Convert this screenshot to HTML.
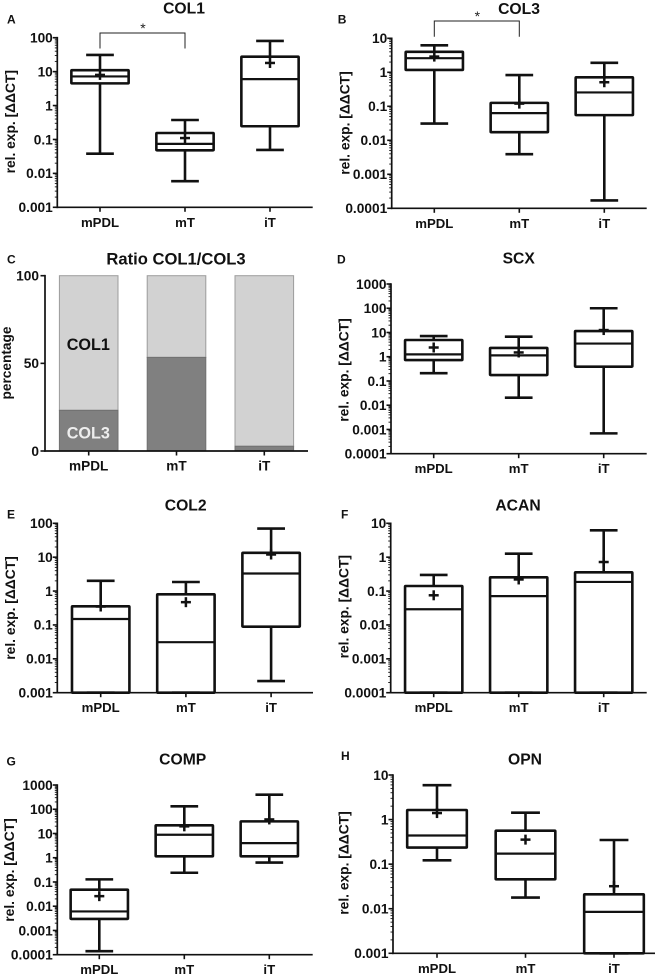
<!DOCTYPE html>
<html lang="en">
<head>
<meta charset="utf-8">
<title>Relative expression of tendon and cartilage markers</title>
<style>
html,body{margin:0;padding:0;background:#fff;width:661px;height:975px;overflow:hidden}
svg{display:block;font-family:"Liberation Sans",Arial,sans-serif}
text{fill:#111;font-weight:bold}
.tick{font-size:13.7px}
.cat{font-size:13.2px}
.ttl{font-size:15.7px}
.ylab{font-size:13.8px}
.let{font-size:12px}
</style>
</head>
<body>
<svg id="figure" width="661" height="975" viewBox="0 0 661 975" xmlns="http://www.w3.org/2000/svg"></svg>
<script>
const categories = ['mPDL', 'mT', 'iT'];

const col1Ticks = ['100', '10', '1', '0.1', '0.01', '0.001'];
const col1Max = [31, 0.375, 80];
const col1Q3 = [11, 0.155, 27.5];
const col1Median = [7.2, 0.074, 6];
const col1Q1 = [4.5, 0.048, 0.245];
const col1Min = [0.038, 0.0059, 0.049];
const col1Mean = [8, 0.11, 18];

const col3Ticks = ['10', '1', '0.1', '0.01', '0.001', '0.0001'];
const col3Max = [6.2, 0.83, 1.9];
const col3Q3 = [4, 0.126, 0.71];
const col3Median = [2.6, 0.063, 0.256];
const col3Q1 = [1.17, 0.0173, 0.055];
const col3Min = [0.031, 0.0039, 0.00017];
const col3Mean = [2.9, 0.12, 0.51];

const ratioTicks = ['100', '50', '0'];
const ratioCol3 = [23.2, 53.4, 2.7];
const ratioCol1 = [76.8, 46.6, 97.3];

const scxTicks = ['1000', '100', '10', '1', '0.1', '0.01', '0.001', '0.0001'];
const scxMax = [7.1, 6.7, 100];
const scxQ3 = [4.9, 2.3, 11.5];
const scxMedian = [1.25, 1.14, 3.5];
const scxQ1 = [0.73, 0.176, 0.39];
const scxMin = [0.21, 0.0204, 0.00069];
const scxMean = [2.4, 1.5, 12.6];

const col2Ticks = ['100', '10', '1', '0.1', '0.01', '0.001'];
const col2Max = [2, 1.85, 70];
const col2Q3 = [0.355, 0.8, 13.5];
const col2Median = [0.15, 0.031, 3.3];
const col2Q1 = [0.001, 0.001, 0.089];
const col2Min = [0.001, 0.001, 0.0022];
const col2Mean = [0.35, 0.47, 12];

const acanTicks = ['10', '1', '0.1', '0.01', '0.001', '0.0001'];
const acanMax = [0.3, 1.27, 6.2];
const acanQ3 = [0.141, 0.254, 0.357];
const acanMedian = [0.029, 0.071, 0.186];
const acanQ1 = [0.0001, 0.0001, 0.0001];
const acanMin = [0.0001, 0.0001, 0.0001];
const acanMean = [0.075, 0.22, 0.72];

const compTicks = ['1000', '100', '10', '1', '0.1', '0.01', '0.001', '0.0001'];
const compMax = [0.128, 132, 398];
const compQ3 = [0.048, 21.7, 31.6];
const compMedian = [0.0061, 8.9, 4];
const compQ1 = [0.003, 1.14, 1.14];
const compMin = [0.00014, 0.24, 0.63];
const compMean = [0.026, 19.7, 38];

const opnTicks = ['10', '1', '0.1', '0.01', '0.001'];
const opnMax = [5.9, 1.43, 0.348];
const opnQ3 = [1.64, 0.564, 0.021];
const opnMedian = [0.44, 0.172, 0.0085];
const opnQ1 = [0.235, 0.0457, 0.001];
const opnMin = [0.122, 0.0178, 0.001];
const opnMean = [1.4, 0.355, 0.032];

const boxPanels = [
  {id:'col1', title:'COL1', letter:'A', ticks:col1Ticks, max:col1Max, q3:col1Q3, med:col1Median, q1:col1Q1, min:col1Min, mean:col1Mean,
   left:57.3, right:312.7, top:37.7, bottom:207.3, firstX:100, stepX:85, titleX:184, titleY:13.5, letterX:7, letterY:23.3, yLabX:15, yLabY:121.7,
   bracket:{top:33, drop:15.5, starX:143, starY:33}},
  {id:'col3', title:'COL3', letter:'B', ticks:col3Ticks, max:col3Max, q3:col3Q3, med:col3Median, q1:col3Q1, min:col3Min, mean:col3Mean,
   left:391.7, right:646.7, top:38.3, bottom:208.3, firstX:434.3, stepX:85, titleX:519, titleY:14, letterX:337.7, letterY:23.3, yLabX:349.3, yLabY:123,
   bracket:{top:21, drop:15.7, starX:477.3, starY:21}},
  {id:'scx', title:'SCX', letter:'D', ticks:scxTicks, max:scxMax, q3:scxQ3, med:scxMedian, q1:scxQ1, min:scxMin, mean:scxMean,
   left:391, right:646.7, top:284, bottom:453.7, firstX:433.7, stepX:85, titleX:518.7, titleY:263.3, letterX:337, letterY:263.3, yLabX:348.3, yLabY:370},
  {id:'col2', title:'COL2', letter:'E', ticks:col2Ticks, max:col2Max, q3:col2Q3, med:col2Median, q1:col2Q1, min:col2Min, mean:col2Mean,
   left:57.3, right:313, top:523.3, bottom:692.7, firstX:100.7, stepX:85.2, titleX:185.7, titleY:510.7, letterX:7, letterY:518.3, yLabX:15, yLabY:608},
  {id:'acan', title:'ACAN', letter:'F', ticks:acanTicks, max:acanMax, q3:acanQ3, med:acanMedian, q1:acanQ1, min:acanMin, mean:acanMean,
   left:390.7, right:646.7, top:523.3, bottom:692.7, firstX:433.7, stepX:85, titleX:518, titleY:510.7, letterX:341, letterY:518.3, yLabX:348.3, yLabY:606.7},
  {id:'comp', title:'COMP', letter:'G', ticks:compTicks, max:compMax, q3:compQ3, med:compMedian, q1:compQ1, min:compMin, mean:compMean,
   left:57.3, right:312.7, top:785, bottom:954.7, firstX:99.3, stepX:85, titleX:182.7, titleY:764.3, letterX:6.5, letterY:765.7, yLabX:14, yLabY:870},
  {id:'opn', title:'OPN', letter:'H', ticks:opnTicks, max:opnMax, q3:opnQ3, med:opnMedian, q1:opnQ1, min:opnMin, mean:opnMean,
   left:393, right:655, top:775, bottom:953.3, firstX:437, stepX:88.5, titleX:525, titleY:764.3, letterX:341, letterY:760, yLabX:348.3, yLabY:863}
];

const svgNS = 'http://www.w3.org/2000/svg';
const root = document.getElementById('figure');

function make(tag, parent, attrs, txt) {
  const el = document.createElementNS(svgNS, tag);
  for (const k in attrs) el.setAttribute(k, attrs[k]);
  if (txt !== undefined) el.textContent = txt;
  parent.appendChild(el);
  return el;
}
function seg(parent, x1, y1, x2, y2, w, color) {
  return make('line', parent, {x1:x1, y1:y1, x2:x2, y2:y2, stroke:color || '#111', 'stroke-width':w});
}
function logScale(domTop, domBottom, top, bottom) {
  const a = Math.log10(domTop);
  const b = Math.log10(domBottom);
  return function (v) { return top + (a - Math.log10(v)) / (a - b) * (bottom - top); };
}

function drawBoxPanel(p) {
  const g = make('g', root, {});
  
  

  const title = make('text', g, {x:p.titleX, y:p.titleY, 'text-anchor':'middle', class:'ttl'}, p.title);
  
  

  const letter = make('text', g, {x:p.letterX, y:p.letterY, class:'let'}, p.letter);
  
  

  const yLab = make('text', g, {x:p.yLabX, y:p.yLabY, 'text-anchor':'middle', class:'ylab', transform:'rotate(-90 ' + p.yLabX + ' ' + p.yLabY + ')'}, 'rel. exp. [\u0394\u0394CT]');
  
  

  const values = p.ticks.map(Number);
  const y = logScale(values[0], values[values.length - 1], p.top, p.bottom);
  const x = function (i) { return p.firstX + i * p.stepX; };
  const boxHalf = p.stepX * 0.337;
  const capHalf = p.stepX * 0.163;

  const yAxis = seg(g, p.left, p.top - 0.8, p.left, p.bottom + 0.8, 1.7);
  
  
  const xAxis = seg(g, p.left - 0.8, p.bottom, p.right, p.bottom, 1.7);
  
  

  values.forEach(function (v, i) {
    const tick = seg(g, p.left - 4.5, y(v), p.left, y(v), 1.6);
    
    
    const lab = make('text', g, {x:p.left - 4.5, y:y(v) + 4.8, 'text-anchor':'end', class:'tick'}, p.ticks[i]);
    
    
    if (i < values.length - 1) {
      for (let m = 2; m < 10; m++) {
        const minor = seg(g, p.left - 2.5, y(values[i + 1] * m), p.left, y(values[i + 1] * m), 0.9);
        
        
      }
    }
  });

  categories.forEach(function (c, i) {
    const cx = x(i);
    const tick = seg(g, cx, p.bottom, cx, p.bottom + 4.5, 1.6);
    
    
    const lab = make('text', g, {x:cx, y:p.bottom + 19.5, 'text-anchor':'middle', class:'cat'}, c);
    
    

    const box = make('g', g, {});
    
    
    const w = 2.6;
    seg(box, cx, y(p.max[i]), cx, y(p.q3[i]), w);
    seg(box, cx, y(p.q1[i]), cx, y(p.min[i]), w);
    seg(box, cx - capHalf, y(p.max[i]), cx + capHalf, y(p.max[i]), w);
    seg(box, cx - capHalf, y(p.min[i]), cx + capHalf, y(p.min[i]), w);
    make('rect', box, {x:cx - boxHalf, y:y(p.q3[i]), width:boxHalf * 2, height:y(p.q1[i]) - y(p.q3[i]), fill:'none', stroke:'#111', 'stroke-width':w, rx:0.6});
    seg(box, cx - boxHalf, y(p.med[i]), cx + boxHalf, y(p.med[i]), 2.2);
    const my = y(p.mean[i]);
    seg(box, cx - 5, my, cx + 5, my, 2.5);
    seg(box, cx, my - 5, cx, my + 5, 2.5);
  });

  if (p.bracket) {
    const b = p.bracket;
    const br = make('polyline', g, {points:x(0) + ',' + (b.top + b.drop) + ' ' + x(0) + ',' + b.top + ' ' + x(1) + ',' + b.top + ' ' + x(1) + ',' + (b.top + b.drop), fill:'none', stroke:'#222', 'stroke-width':1});
    
    
    const star = make('text', g, {x:b.starX, y:b.starY, 'text-anchor':'middle', style:'font-size:14px;font-weight:normal;fill:#222'}, '*');
    
    
  }
}

function drawRatioPanel() {
  const p = {left:45, right:308, top:275.7, bottom:451, firstX:88.7, stepX:87.8, half:29.3};
  const g = make('g', root, {});
  
  

  const title = make('text', g, {x:176, y:264.3, 'text-anchor':'middle', style:'font-size:16.6px'}, 'Ratio COL1/COL3');
  
  
  const letter = make('text', g, {x:7, y:263.3, class:'let'}, 'C');
  
  
  const yLab = make('text', g, {x:11, y:363, 'text-anchor':'middle', transform:'rotate(-90 11 363)', style:'font-size:13.7px'}, 'percentage');
  
  

  const y = function (v) { return p.bottom - v / 100 * (p.bottom - p.top); };
  const x = function (i) { return p.firstX + i * p.stepX; };

  categories.forEach(function (c, i) {
    const col3Top = y(ratioCol3[i]);
    const col1Top = y(ratioCol3[i] + ratioCol1[i]);
    const light = make('rect', g, {x:x(i) - p.half, y:col1Top, width:p.half * 2, height:col3Top - col1Top, fill:'#d2d2d2', stroke:'#9c9c9c', 'stroke-width':1});
    
    
    const dark = make('rect', g, {x:x(i) - p.half, y:col3Top, width:p.half * 2, height:p.bottom - col3Top, fill:'#808080', stroke:'#707070', 'stroke-width':1});
    
    
  });

  const yAxis = seg(g, p.left, p.top - 0.8, p.left, p.bottom + 0.8, 1.7);
  
  
  const xAxis = seg(g, p.left - 0.8, p.bottom, p.right, p.bottom, 1.7);
  
  

  ratioTicks.forEach(function (t) {
    const v = Number(t);
    const tick = seg(g, p.left - 4.5, y(v), p.left, y(v), 1.6);
    
    
    const lab = make('text', g, {x:p.left - 6, y:y(v) + 4.8, 'text-anchor':'end', class:'tick'}, t);
    
    
  });

  categories.forEach(function (c, i) {
    const tick = seg(g, x(i), p.bottom, x(i), p.bottom + 4.5, 1.6);
    
    
    const lab = make('text', g, {x:x(i), y:p.bottom + 19.5, 'text-anchor':'middle', style:'font-size:13.6px'}, c);
    
    
  });

  const col1Label = make('text', g, {x:88.3, y:350, 'text-anchor':'middle', style:'font-size:16.2px'}, 'COL1');
  
  
  const col3Label = make('text', g, {x:88.3, y:438.3, 'text-anchor':'middle', style:'font-size:16.2px;fill:#eee'}, 'COL3');
  
  
}

boxPanels.forEach(drawBoxPanel);
drawRatioPanel();
</script>
</body>
</html>
